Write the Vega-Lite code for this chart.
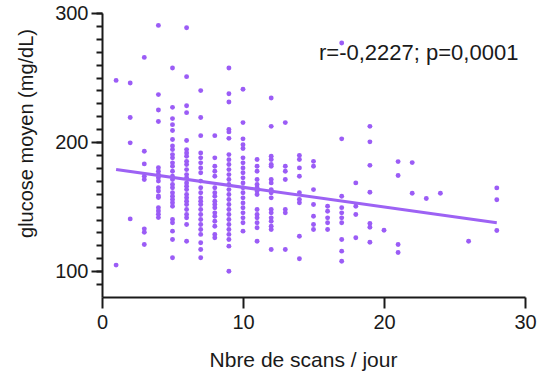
{
  "$schema": "https://vega.github.io/schema/vega-lite/v6.json",
  "width": 423,
  "height": 284,
  "autosize": "none",
  "padding": {"left": 102, "top": 13, "right": 19, "bottom": 85},
  "background": "white",
  "config": {
    "view": {"stroke": null},
    "font": "Liberation Sans",
    "axis": {
      "grid": false,
      "domainColor": "#1a1a1a",
      "domainWidth": 2,
      "tickColor": "#1a1a1a",
      "tickWidth": 2,
      "labelColor": "#1a1a1a",
      "titleColor": "#1a1a1a",
      "labelFont": "Liberation Sans",
      "titleFont": "Liberation Sans",
      "labelFontSize": 20,
      "titleFontWeight": "normal",
      "labelFlush": false,
      "labelOverlap": false
    }
  },
  "datasets": {
    "pts": [
      {"n": 1, "g": 247.8}, {"n": 1, "g": 104.7},
      {"n": 2, "g": 245.8}, {"n": 2, "g": 219}, {"n": 2, "g": 199.4}, {"n": 2, "g": 140.5},
      {"n": 3, "g": 265.6}, {"n": 3, "g": 192.9}, {"n": 3, "g": 183.1}, {"n": 3, "g": 173.5}, {"n": 3, "g": 171}, {"n": 3, "g": 132.8}, {"n": 3, "g": 130.2}, {"n": 3, "g": 120.7},
      {"n": 4, "g": 290.4}, {"n": 4, "g": 236.8}, {"n": 4, "g": 224.9}, {"n": 4, "g": 215.9}, {"n": 4, "g": 180.1}, {"n": 4, "g": 177.5}, {"n": 4, "g": 174.9}, {"n": 4, "g": 172.4}, {"n": 4, "g": 169.8}, {"n": 4, "g": 164.6}, {"n": 4, "g": 162.1}, {"n": 4, "g": 158.2}, {"n": 4, "g": 157}, {"n": 4, "g": 149.2}, {"n": 4, "g": 146.6}, {"n": 4, "g": 144.1}, {"n": 4, "g": 141.5},
      {"n": 5, "g": 257.4}, {"n": 5, "g": 226.9}, {"n": 5, "g": 218.2}, {"n": 5, "g": 213.5}, {"n": 5, "g": 209}, {"n": 5, "g": 202}, {"n": 5, "g": 197}, {"n": 5, "g": 194.2}, {"n": 5, "g": 190.3}, {"n": 5, "g": 187.8}, {"n": 5, "g": 183.9}, {"n": 5, "g": 181.3}, {"n": 5, "g": 177.4}, {"n": 5, "g": 173.5}, {"n": 5, "g": 171}, {"n": 5, "g": 167.1}, {"n": 5, "g": 164.6}, {"n": 5, "g": 160.7}, {"n": 5, "g": 158.1}, {"n": 5, "g": 155.5}, {"n": 5, "g": 153}, {"n": 5, "g": 150.3}, {"n": 5, "g": 140}, {"n": 5, "g": 137.5}, {"n": 5, "g": 131}, {"n": 5, "g": 124.5}, {"n": 5, "g": 110.4},
      {"n": 6, "g": 288.6}, {"n": 6, "g": 250.7}, {"n": 6, "g": 228.2}, {"n": 6, "g": 222.8}, {"n": 6, "g": 201.2}, {"n": 6, "g": 194.2}, {"n": 6, "g": 191.6}, {"n": 6, "g": 189}, {"n": 6, "g": 185.1}, {"n": 6, "g": 182.6}, {"n": 6, "g": 178.7}, {"n": 6, "g": 174.8}, {"n": 6, "g": 172.3}, {"n": 6, "g": 168.4}, {"n": 6, "g": 165.8}, {"n": 6, "g": 163.2}, {"n": 6, "g": 159.4}, {"n": 6, "g": 156.8}, {"n": 6, "g": 154.2}, {"n": 6, "g": 151.6}, {"n": 6, "g": 147.8}, {"n": 6, "g": 143.9}, {"n": 6, "g": 141.3}, {"n": 6, "g": 136.2}, {"n": 6, "g": 123.2},
      {"n": 7, "g": 239.9}, {"n": 7, "g": 219}, {"n": 7, "g": 205}, {"n": 7, "g": 191.6}, {"n": 7, "g": 187.8}, {"n": 7, "g": 183.9}, {"n": 7, "g": 180}, {"n": 7, "g": 176.2}, {"n": 7, "g": 169.8}, {"n": 7, "g": 164.6}, {"n": 7, "g": 160.7}, {"n": 7, "g": 156.8}, {"n": 7, "g": 154.2}, {"n": 7, "g": 151.6}, {"n": 7, "g": 147.8}, {"n": 7, "g": 143.9}, {"n": 7, "g": 140}, {"n": 7, "g": 136.2}, {"n": 7, "g": 132.3}, {"n": 7, "g": 128.5}, {"n": 7, "g": 122}, {"n": 7, "g": 116.8}, {"n": 7, "g": 110.4},
      {"n": 8, "g": 205}, {"n": 8, "g": 187.8}, {"n": 8, "g": 181.3}, {"n": 8, "g": 177.4}, {"n": 8, "g": 173.5}, {"n": 8, "g": 164.6}, {"n": 8, "g": 160.7}, {"n": 8, "g": 158.1}, {"n": 8, "g": 154.2}, {"n": 8, "g": 151.6}, {"n": 8, "g": 149.1}, {"n": 8, "g": 145.2}, {"n": 8, "g": 142.6}, {"n": 8, "g": 138.7}, {"n": 8, "g": 134.8}, {"n": 8, "g": 128.4}, {"n": 8, "g": 125.9},
      {"n": 9, "g": 257.4}, {"n": 9, "g": 237.5}, {"n": 9, "g": 231.1}, {"n": 9, "g": 209.7}, {"n": 9, "g": 207.9}, {"n": 9, "g": 202.9}, {"n": 9, "g": 190.3}, {"n": 9, "g": 186.4}, {"n": 9, "g": 182.6}, {"n": 9, "g": 178.7}, {"n": 9, "g": 174.8}, {"n": 9, "g": 171}, {"n": 9, "g": 167.1}, {"n": 9, "g": 163.2}, {"n": 9, "g": 159.4}, {"n": 9, "g": 155.5}, {"n": 9, "g": 151.6}, {"n": 9, "g": 147.8}, {"n": 9, "g": 143.9}, {"n": 9, "g": 140}, {"n": 9, "g": 136.2}, {"n": 9, "g": 132.3}, {"n": 9, "g": 128.5}, {"n": 9, "g": 124.5}, {"n": 9, "g": 119.4}, {"n": 9, "g": 100},
      {"n": 10, "g": 240.9}, {"n": 10, "g": 215.1}, {"n": 10, "g": 202.5}, {"n": 10, "g": 198}, {"n": 10, "g": 195}, {"n": 10, "g": 187.8}, {"n": 10, "g": 183.9}, {"n": 10, "g": 180}, {"n": 10, "g": 176.2}, {"n": 10, "g": 172.3}, {"n": 10, "g": 168.4}, {"n": 10, "g": 164.6}, {"n": 10, "g": 160.7}, {"n": 10, "g": 156.8}, {"n": 10, "g": 152.9}, {"n": 10, "g": 149.1}, {"n": 10, "g": 145.2}, {"n": 10, "g": 141.3}, {"n": 10, "g": 137.5}, {"n": 10, "g": 131},
      {"n": 11, "g": 186.5}, {"n": 11, "g": 181.3}, {"n": 11, "g": 177.4}, {"n": 11, "g": 171}, {"n": 11, "g": 167.1}, {"n": 11, "g": 164.6}, {"n": 11, "g": 162.1}, {"n": 11, "g": 159.4}, {"n": 11, "g": 147.8}, {"n": 11, "g": 143.9}, {"n": 11, "g": 141.3}, {"n": 11, "g": 137.5}, {"n": 11, "g": 133.6}, {"n": 11, "g": 123.2},
      {"n": 12, "g": 234.2}, {"n": 12, "g": 212.2}, {"n": 12, "g": 189}, {"n": 12, "g": 186.5}, {"n": 12, "g": 182.6}, {"n": 12, "g": 181.3}, {"n": 12, "g": 171}, {"n": 12, "g": 168.4}, {"n": 12, "g": 163.2}, {"n": 12, "g": 160.7}, {"n": 12, "g": 156.8}, {"n": 12, "g": 147.8}, {"n": 12, "g": 145.2}, {"n": 12, "g": 141.3}, {"n": 12, "g": 138.7}, {"n": 12, "g": 134.8}, {"n": 12, "g": 132.3}, {"n": 12, "g": 116.8},
      {"n": 13, "g": 215.1}, {"n": 13, "g": 181.3}, {"n": 13, "g": 177.4}, {"n": 13, "g": 171}, {"n": 13, "g": 147.8}, {"n": 13, "g": 145.2}, {"n": 13, "g": 116.8},
      {"n": 14, "g": 189.6}, {"n": 14, "g": 186.5}, {"n": 14, "g": 180}, {"n": 14, "g": 173.5}, {"n": 14, "g": 160.7}, {"n": 14, "g": 155.5}, {"n": 14, "g": 153}, {"n": 14, "g": 127.1}, {"n": 14, "g": 109.6},
      {"n": 15, "g": 185.1}, {"n": 15, "g": 181.3}, {"n": 15, "g": 163.2}, {"n": 15, "g": 151.6}, {"n": 15, "g": 142.6}, {"n": 15, "g": 136.2}, {"n": 15, "g": 132.3},
      {"n": 16, "g": 150.3}, {"n": 16, "g": 146.4}, {"n": 16, "g": 141.3}, {"n": 16, "g": 137.5}, {"n": 16, "g": 132.3},
      {"n": 17, "g": 276.8}, {"n": 17, "g": 202.5}, {"n": 17, "g": 158.1}, {"n": 17, "g": 149.2}, {"n": 17, "g": 145.2}, {"n": 17, "g": 141.3}, {"n": 17, "g": 137.5}, {"n": 17, "g": 124.5}, {"n": 17, "g": 115.5}, {"n": 17, "g": 107.7},
      {"n": 18, "g": 168.4}, {"n": 18, "g": 150.3}, {"n": 18, "g": 143.9}, {"n": 18, "g": 125.9},
      {"n": 19, "g": 212.2}, {"n": 19, "g": 200.2}, {"n": 19, "g": 182}, {"n": 19, "g": 161.1}, {"n": 19, "g": 137}, {"n": 19, "g": 134}, {"n": 19, "g": 122.4},
      {"n": 20, "g": 131.7},
      {"n": 21, "g": 184.9}, {"n": 21, "g": 174.1}, {"n": 21, "g": 120.7}, {"n": 21, "g": 114.5},
      {"n": 22, "g": 184.1}, {"n": 22, "g": 160.4},
      {"n": 23, "g": 156.3},
      {"n": 24, "g": 160.4},
      {"n": 26, "g": 123.2},
      {"n": 28, "g": 164.5}, {"n": 28, "g": 155.3}, {"n": 28, "g": 131.5}
    ],
    "fit": [{"n": 1, "g": 178.7}, {"n": 28, "g": 137.5}],
    "note": [{"n": 15.39, "g": 269, "label": "r=-0,2227; p=0,0001"}]
  },
  "resolve": {"axis": {"y": "independent"}},
  "layer": [
    {
      "data": {"name": "fit"},
      "mark": {"type": "line", "color": "#9d62f4", "strokeWidth": 3, "opacity": 0},
      "encoding": {
        "x": {"field": "n", "type": "quantitative", "scale": {"domain": [0, 30], "nice": false, "zero": false}},
        "y": {
          "field": "g", "type": "quantitative",
          "scale": {"domain": [80, 300], "nice": false, "zero": false},
          "axis": {
            "orient": "left",
            "title": null,
            "values": [90, 100, 110, 120, 130, 140, 150, 160, 170, 180, 190, 200, 210, 220, 230, 240, 250, 260, 270, 280, 290, 300],
            "labels": false,
            "domain": false,
            "tickSize": 6
          }
        }
      }
    },
    {
      "data": {"name": "pts"},
      "mark": {"type": "circle", "size": 24, "opacity": 1, "color": "#9b5cf6"},
      "encoding": {
        "x": {
          "field": "n", "type": "quantitative",
          "scale": {"domain": [0, 30], "nice": false, "zero": false},
          "axis": {
            "title": "Nbre de scans / jour",
            "values": [0, 10, 20, 30],
            "tickSize": 11,
            "labelPadding": 4,
            "titleFontSize": 21,
            "titleX": 201,
            "titleY": 69,
            "titleBaseline": "alphabetic",
            "titleAlign": "center"
          }
        },
        "y": {
          "field": "g", "type": "quantitative",
          "scale": {"domain": [80, 300], "nice": false, "zero": false},
          "axis": {
            "orient": "left",
            "title": "glucose moyen (mg/dL)",
            "values": [100, 200, 300],
            "tickSize": 11,
            "labelPadding": 3,
            "titleFontSize": 20,
            "titleX": -76,
            "titleY": 120,
            "titleBaseline": "middle",
            "titleAlign": "center"
          }
        }
      }
    },
    {
      "data": {"name": "fit"},
      "mark": {"type": "line", "color": "#9d62f4", "strokeWidth": 3},
      "encoding": {
        "x": {"field": "n", "type": "quantitative"},
        "y": {"field": "g", "type": "quantitative", "axis": null}
      }
    },
    {
      "data": {"name": "note"},
      "mark": {"type": "text", "align": "left", "baseline": "middle", "fontSize": 22, "font": "Liberation Sans", "color": "#1a1a1a"},
      "encoding": {
        "x": {"field": "n", "type": "quantitative"},
        "y": {"field": "g", "type": "quantitative", "axis": null},
        "text": {"field": "label"}
      }
    }
  ]
}
